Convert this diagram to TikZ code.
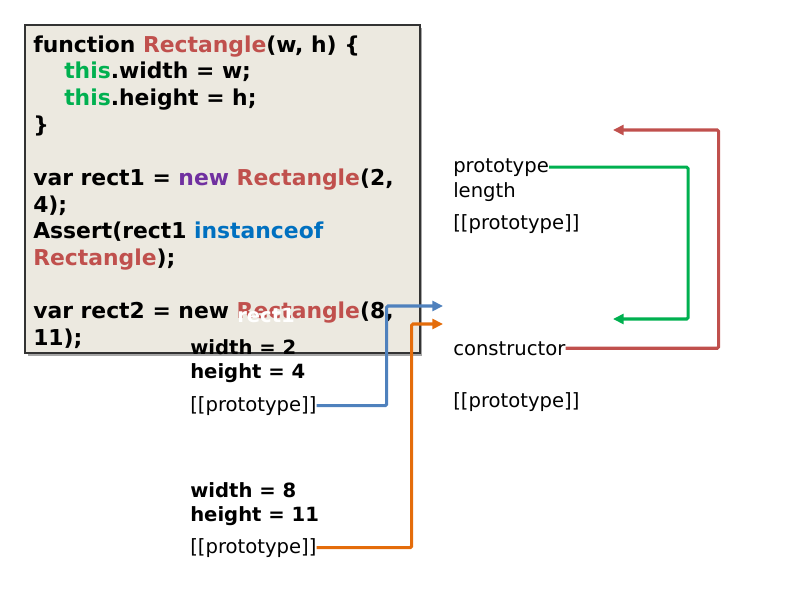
\documentclass[tikz,border=0pt]{standalone}
\usepackage{fontspec}
\setmainfont{DejaVu Sans}
\usepackage{xcolor}
\usetikzlibrary{arrows.meta,positioning}

\definecolor{rectred}{RGB}{192,80,77}
\definecolor{thisgreen}{RGB}{0,176,80}
\definecolor{newpurple}{RGB}{112,48,160}
\definecolor{instblue}{RGB}{0,112,192}
\definecolor{linkblue}{RGB}{79,129,189}
\definecolor{linkorange}{RGB}{228,108,10}
\definecolor{boxfill}{RGB}{236,233,224}

\begin{document}
\begin{tikzpicture}[x=0.75pt,y=-0.75pt]
  % Styles
  \tikzset{
    code/.style={anchor=base west, inner sep=0pt, font=\fontsize{16.4}{20}\selectfont\bfseries},
    field/.style={anchor=base west, inner sep=0pt, font=\fontsize{14.7}{18}\selectfont\bfseries},
    slot/.style={anchor=base west, inner sep=0pt, font=\fontsize{14.7}{18}\selectfont},
    link/.style={-{Triangle[length=8pt,width=7.5pt]}, line width=2.3pt, rounded corners=1pt}
  }
  \useasboundingbox (0,0) rectangle (800,600);

  % Code box
  \fill[gray!70] (28,28) rectangle (422,356);
  \draw[fill=boxfill, draw=black!80, line width=1pt] (25,25) rectangle (420,353);

  % Code lines
  \node[code] (code1) at (33,52) {function \textcolor{rectred}{Rectangle}(w, h) \{};
  \node[code] (code2) at (64,78.5) {\textcolor{thisgreen}{this}.width = w;};
  \node[code] (code3) at (64,105) {\textcolor{thisgreen}{this}.height = h;};
  \node[code] (code4) at (33,132) {\}};
  \node[code] (code5) at (33,185) {var rect1 = \textcolor{newpurple}{new} \textcolor{rectred}{Rectangle}(2,};
  \node[code] (code6) at (33,212) {4);};
  \node[code] (code7) at (33,238) {Assert(rect1 \textcolor{instblue}{instanceof}};
  \node[code] (code8) at (33,265) {\textcolor{rectred}{Rectangle});};
  \node[code] (code9) at (33,318) {var rect2 = new \textcolor{rectred}{Rectangle}(8,};
  \node[code] (code10) at (33,345) {11);};

  % rect1 object
  \node[field, text=white] (rOneTitle) at (237,322) {rect1};
  \node[field] (rOneWidth) at (190,354) {width = 2};
  \node[field] (rOneHeight) at (190,378) {height = 4};
  \node[slot] (rOneProto) at (190,411) {[[prototype]]};

  % rect2 object
  \node[field] (rTwoWidth) at (190,497) {width = 8};
  \node[field] (rTwoHeight) at (190,521) {height = 11};
  \node[slot] (rTwoProto) at (190,553) {[[prototype]]};

  % Rectangle function object
  \node[slot] (fnProto) at (453,172) {prototype};
  \node[slot] (fnLength) at (453,197) {length};
  \node[slot] (fnSlot) at (453,229) {[[prototype]]};

  % Rectangle.prototype object
  \node[slot] (pCtor) at (453,355) {constructor};
  \node[slot] (pSlot) at (453,407) {[[prototype]]};

  % Arrow targets
  \coordinate (rOneTgt) at (443,306);
  \coordinate (rTwoTgt) at (443,324);
  \coordinate (protoTgt) at (613,319);
  \coordinate (ctorTgt) at (613,130);

  % Links
  \draw[link, linkblue] (rOneProto.east) -- ++(70,0) |- (rOneTgt);
  \draw[link, linkorange] (rTwoProto.east) -- ++(95,0) |- (rTwoTgt);
  \draw[link, thisgreen] (fnProto.east) -- ++(139,0) |- (protoTgt);
  \draw[link, rectred] (pCtor.east) -- ++(153,0) |- (ctorTgt);

\end{tikzpicture}
\end{document}
